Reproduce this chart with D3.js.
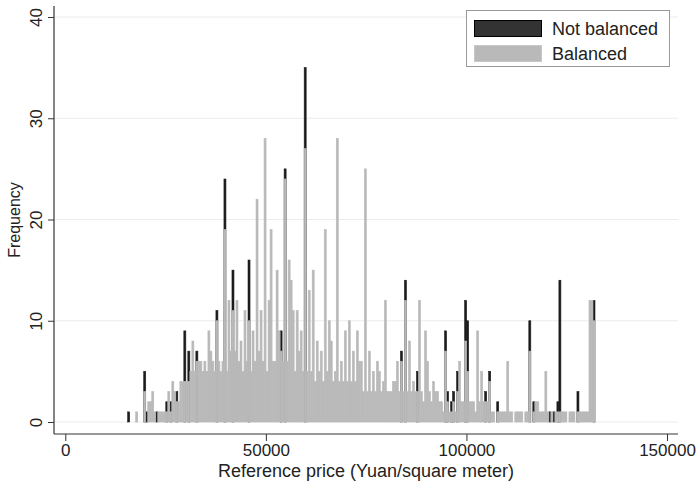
<!DOCTYPE html>
<html>
<head>
<meta charset="utf-8">
<script src="https://cdn.jsdelivr.net/npm/d3@7"></script>
<style>
  body { margin: 0; background: #fff; }
  svg { display: block; font-family: Arial, "Liberation Sans", sans-serif; }
  .grid line { stroke: #ececec; stroke-width: 1; }
  .tick text { fill: #222; }
</style>
</head>
<body>
<svg id="chart" width="696" height="486"></svg>
<script>
// histogram bins: 500 yuan wide, first bin starts at 15550
const binStart = 15550;
const binWidth = 500;

// balanced frequencies per bin
const balanced = [
  0,0,0,0,1,0,0,0,3,0,
  2,2,3,1,0,1,1,1,1,1,
  3,1,4,3,2,2,4,4,4,4,
  4,5,8,5,6,6,6,5,6,5,
  9,7,6,5,10,6,5,6,19,5,
  12,7,11,7,12,6,8,5,11,6,
  10,5,9,6,22,7,11,6,28,5,
  12,19,6,6,15,9,7,6,24,6,
  16,14,11,5,11,7,9,5,27,5,
  13,5,15,4,8,5,7,4,19,5,
  10,8,4,5,28,4,6,4,9,4,
  10,4,7,4,9,6,6,3,25,3,
  7,3,5,3,6,5,3,4,12,3,
  3,3,4,4,6,3,6,3,12,3,
  8,3,4,3,3,12,3,2,9,6,
  3,2,4,3,3,2,2,1,7,2,
  1,1,2,1,3,6,2,2,8,5,
  2,2,2,1,9,2,5,2,2,2,
  4,1,1,0,1,1,1,1,1,6,
  1,1,0,1,1,1,1,0,1,1,
  7,0,1,2,2,1,1,1,5,1,
  0,1,0,1,1,1,1,1,1,0,
  1,1,1,0,1,1,1,1,1,1,
  12,12,10
];

// not balanced frequencies per bin (shown on top of balanced)
const notBalanced = [
  1,0,0,0,0,0,0,0,2,1,
  0,0,0,0,1,0,0,0,0,1,
  0,1,0,0,1,0,0,0,5,0,
  3,0,0,0,1,0,0,0,0,0,
  0,0,0,0,1,0,0,0,5,0,
  0,0,4,0,0,0,0,0,0,0,
  6,0,0,0,0,0,0,0,0,0,
  0,0,0,0,0,0,2,0,1,0,
  0,0,0,0,0,0,0,0,8,0,
  0,0,0,0,0,0,0,0,0,0,
  0,0,0,0,0,0,0,0,0,0,
  0,0,0,0,0,0,0,0,0,0,
  0,0,0,0,0,0,0,0,0,0,
  0,0,0,0,0,0,1,0,2,0,
  0,0,0,0,2,0,0,0,0,0,
  0,0,0,0,0,0,0,0,2,1,
  0,1,1,0,2,0,0,0,4,5,
  0,0,0,0,0,0,0,0,1,0,
  1,0,0,0,1,0,0,0,0,0,
  0,0,0,0,0,0,0,0,0,0,
  3,0,1,0,0,0,0,0,0,0,
  1,0,1,0,1,13,0,0,0,0,
  0,0,0,0,2,0,0,0,0,0,
  0,0,2
];

const xTicks = [0, 50000, 100000, 150000];
const yTicks = [0, 10, 20, 30, 40];
const legendLabels = ["Not balanced", "Balanced"];

const darkColor = "#1c1c1c";
const grayColor = "#b9b9b9";

const svg = d3.select("#chart");

const x = d3.scaleLinear().domain([0, 150000]).range([65.3, 667]);
const y = d3.scaleLinear().domain([0, 40]).range([422, 17]);

const bins = balanced.map((b, i) => ({
  x0: binStart + i * binWidth,
  x1: binStart + (i + 1) * binWidth,
  balanced: b,
  total: b + notBalanced[i]
}));

// gridlines
svg.append("g").attr("class", "grid")
  .selectAll("line").data(yTicks).enter().append("line")
  .attr("x1", 55).attr("x2", 678)
  .attr("y1", d => y(d)).attr("y2", d => y(d));

// dark bars (total) behind, gray bars (balanced) in front
svg.append("g").selectAll("rect")
  .data(bins.filter(d => d.total > d.balanced)).enter().append("rect")
  .attr("x", d => x(d.x0))
  .attr("width", d => x(d.x1) - x(d.x0))
  .attr("y", d => y(d.total))
  .attr("height", d => y(0) - y(d.total))
  .attr("fill", darkColor)
  .attr("stroke", darkColor)
  .attr("stroke-width", 0.6);

svg.append("g").selectAll("rect")
  .data(bins.filter(d => d.balanced > 0)).enter().append("rect")
  .attr("x", d => x(d.x0))
  .attr("width", d => x(d.x1) - x(d.x0))
  .attr("y", d => y(d.balanced))
  .attr("height", d => y(0) - y(d.balanced))
  .attr("fill", grayColor)
  .attr("stroke", grayColor)
  .attr("stroke-width", 0.6);

// axes
const yAxis = svg.append("g")
  .attr("transform", "translate(54,0)")
  .call(d3.axisLeft(y).tickValues(yTicks).tickSize(6).tickSizeOuter(0));
yAxis.select(".domain").remove();
yAxis.selectAll(".tick line").attr("stroke", "#333");
yAxis.selectAll(".tick text")
  .attr("font-size", 17)
  .attr("text-anchor", "middle")
  .attr("x", 0).attr("y", -18).attr("dy", "0.35em")
  .attr("transform", "rotate(-90)");

const xAxis = svg.append("g")
  .attr("transform", "translate(0,434)")
  .call(d3.axisBottom(x).tickValues(xTicks).tickFormat(d3.format("d")).tickSize(7).tickPadding(3).tickSizeOuter(0));
xAxis.select(".domain").remove();
xAxis.selectAll(".tick line").attr("stroke", "#333");
xAxis.selectAll(".tick text").attr("font-size", 17);

svg.append("line").attr("x1", 54).attr("x2", 54).attr("y1", 6).attr("y2", 434)
  .attr("stroke", "#333").attr("stroke-width", 1.2);
svg.append("line").attr("x1", 54).attr("x2", 678).attr("y1", 434).attr("y2", 434)
  .attr("stroke", "#333").attr("stroke-width", 1.2);

// axis titles
svg.append("text")
  .attr("transform", "translate(20,220) rotate(-90)")
  .attr("text-anchor", "middle")
  .attr("font-size", 16)
  .attr("fill", "#222")
  .text("Frequency");

svg.append("text")
  .attr("x", 366).attr("y", 477)
  .attr("text-anchor", "middle")
  .attr("font-size", 18)
  .attr("fill", "#222")
  .text("Reference price (Yuan/square meter)");

// legend
const legend = svg.append("g");
legend.append("rect")
  .attr("x", 466.5).attr("y", 10.5).attr("width", 203).attr("height", 56)
  .attr("fill", "#fff").attr("stroke", "#999");
legend.selectAll(".key").data(legendLabels).enter().append("rect")
  .attr("x", 474.5).attr("y", (d, i) => 20.5 + i * 25)
  .attr("width", 67).attr("height", 16)
  .attr("fill", (d, i) => i === 0 ? "#333" : grayColor)
  .attr("stroke", (d, i) => i === 0 ? "#000" : "#c8c8c8");
legend.selectAll(".lab").data(legendLabels).enter().append("text")
  .attr("x", 552).attr("y", (d, i) => 34.5 + i * 25)
  .attr("font-size", 18)
  .attr("fill", "#222")
  .text(d => d);
</script>
</body>
</html>
